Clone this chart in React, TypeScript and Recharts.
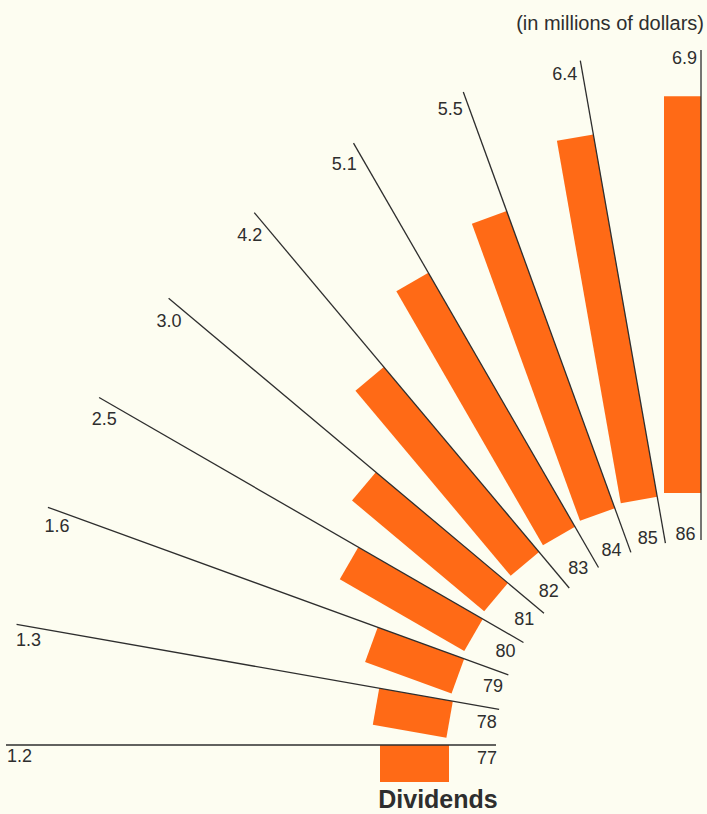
import React from "react";
import {
  RadialBarChart,
  RadialBar,
  PolarAngleAxis,
  PolarRadiusAxis,
} from "recharts";

const years = ["77", "78", "79", "80", "81", "82", "83", "84", "85", "86"];
const dividends = [1.2, 1.3, 1.6, 2.5, 3.0, 4.2, 5.1, 5.5, 6.4, 6.9];

const data = years.map((year, i) => ({ year, value: dividends[i] }));

const RAD = Math.PI / 180;
const LINE_INNER = 205;
const LINE_OUTER = 695;
const BAR_WIDTH = 37;
const LABEL_SIZE = 18;
const INK = "#2e2e2e";
const FONT = "'Liberation Sans', Arial, sans-serif";

// rough half-width of a label in this font (digits 0.556em, dot 0.278em)
const halfWidth = (s: string) =>
  (s.split("").reduce((w, c) => w + (c === "." ? 0.278 : 0.556), 0) *
    LABEL_SIZE) /
  2;
const HALF_HEIGHT = 7;

// Each spoke: a straight bar laid along the clockwise edge of its angle band,
// plus the rule line with the value at the far end and the year at the near end.
function FanBar(props: any) {
  const { cx, cy, innerRadius, outerRadius, startAngle, endAngle, payload } =
    props;
  const a = Math.min(startAngle, endAngle) * RAD;
  const ux = Math.cos(a);
  const uy = -Math.sin(a);
  const px = -Math.sin(a);
  const py = -Math.cos(a);
  const at = (r: number, off: number) => [
    cx + r * ux + off * px,
    cy + r * uy + off * py,
  ];
  // extent of a label box along the spoke and across it
  const extents = (s: string) => {
    const hw = halfWidth(s);
    return [
      hw * Math.abs(ux) + HALF_HEIGHT * Math.abs(uy),
      hw * Math.abs(px) + HALF_HEIGHT * Math.abs(py),
    ];
  };

  const corners = [
    at(innerRadius, 0),
    at(outerRadius, 0),
    at(outerRadius, BAR_WIDTH),
    at(innerRadius, BAR_WIDTH),
  ];
  const [x1, y1] = at(LINE_INNER, 0);
  const [x2, y2] = at(LINE_OUTER, 0);

  const valueText = payload.value.toFixed(1);
  const [vu, vp] = extents(valueText);
  const [vx, vy] = at(LINE_OUTER - 1 - vu, 4 + vp);

  const yearText = payload.year;
  const [yu, yp] = extents(yearText);
  const [yx, yy] = at(LINE_INNER - 1 + yu, 5.5 + yp);

  return (
    <g>
      <polygon
        points={corners.map((p) => p.join(",")).join(" ")}
        fill="#ff6a16"
      />
      <line x1={x1} y1={y1} x2={x2} y2={y2} stroke={INK} strokeWidth={1.3} />
      <text
        x={vx}
        y={vy}
        textAnchor="middle"
        dominantBaseline="central"
        fontFamily={FONT}
        fontSize={LABEL_SIZE}
        fill={INK}
      >
        {valueText}
      </text>
      <text
        x={yx}
        y={yy}
        textAnchor="middle"
        dominantBaseline="central"
        fontFamily={FONT}
        fontSize={LABEL_SIZE}
        fill={INK}
      >
        {yearText}
      </text>
    </g>
  );
}

export default function App() {
  return (
    <div
      style={{
        position: "fixed",
        left: 0,
        top: 0,
        width: 707,
        height: 814,
        background: "#fdfdf1",
      }}
    >
      <RadialBarChart
        width={707}
        height={814}
        data={data}
        layout="centric"
        cx={701}
        cy={745}
        innerRadius={252}
        outerRadius={712}
        startAngle={180}
        endAngle={80}
        barCategoryGap={0}
        margin={{ top: 0, right: 0, bottom: 0, left: 0 }}
      >
        <PolarAngleAxis
          type="category"
          dataKey="year"
          tick={false}
          axisLine={false}
          tickLine={false}
        />
        <PolarRadiusAxis
          type="number"
          domain={[0, 8]}
          tick={false}
          axisLine={false}
          tickLine={false}
        />
        <RadialBar
          dataKey="value"
          shape={FanBar}
          isAnimationActive={false}
        />
        <text
          x={704}
          y={30}
          textAnchor="end"
          fontFamily={FONT}
          fontSize={20}
          fill={INK}
        >
          (in millions of dollars)
        </text>
        <text
          x={438}
          y={808}
          textAnchor="middle"
          fontFamily={FONT}
          fontWeight="bold"
          fontSize={25}
          fill={INK}
        >
          Dividends
        </text>
      </RadialBarChart>
    </div>
  );
}
